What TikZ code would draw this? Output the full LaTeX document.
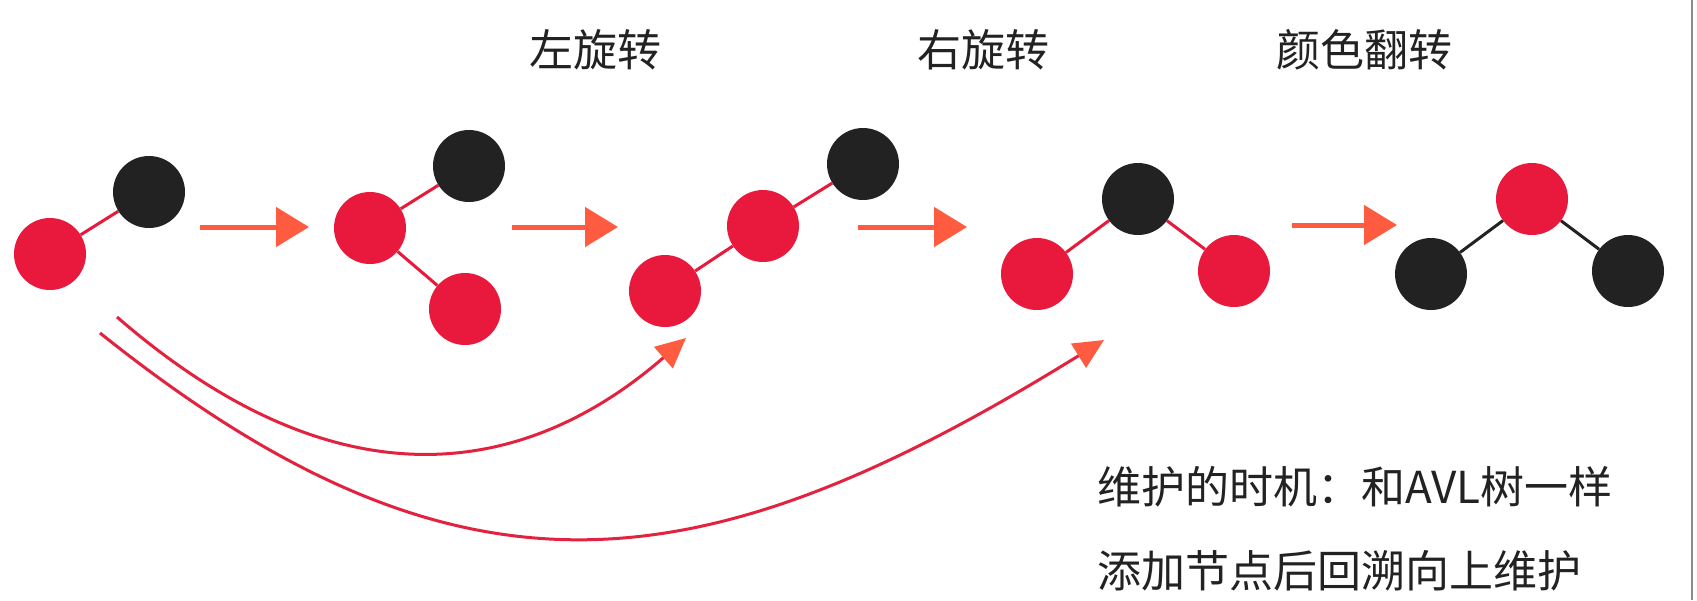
\documentclass[tikz,border=0pt]{standalone}
\usepackage{fontspec}
\setmainfont{Noto Sans CJK SC}
\usetikzlibrary{arrows.meta}
\definecolor{rbred}{HTML}{E8193C}
\definecolor{rbblack}{HTML}{222222}
\definecolor{arr}{HTML}{FF5B40}
\definecolor{curvered}{HTML}{E2223F}
\begin{document}
\begin{tikzpicture}[x=1pt,y=-1pt,
  rn/.style={circle,fill=rbred,minimum size=72pt,inner sep=0pt},
  bn/.style={circle,fill=rbblack,minimum size=72pt,inner sep=0pt},
  redge/.style={draw=rbred,line width=3pt},
  bedge/.style={draw=rbblack,line width=3pt},
  steparrow/.style={draw=arr,line width=5pt,-{Triangle[length=33pt,width=39pt]}},
  curvearrow/.style={draw=curvered,line width=3pt,-{Triangle[length=30pt,width=28pt,color=arr]}},
  title/.style={font=\fontsize{44}{50}\selectfont,text=rbblack,inner sep=0pt},
  note/.style={font=\fontsize{44}{50}\selectfont,text=rbblack,inner sep=0pt,anchor=west}]
\useasboundingbox (0,0) rectangle (1697,600);
\fill[white] (0,0) rectangle (1697,600);
\draw[black!45,line width=2pt] (1692,0) -- (1692,600);

% titles
\node[title] (l1) at (595,50) {左旋转};
\node[title] (l2) at (983,50) {右旋转};
\node[title] (l3) at (1364,50) {颜色翻转};

% tree 1
\node[rn] (t1r) at (50,254) {};
\node[bn] (t1b) at (149,192) {};
\draw[redge] (t1r) -- (t1b);

% tree 2
\node[rn] (t2r) at (370,228) {};
\node[bn] (t2b) at (469,166) {};
\node[rn] (t2c) at (465,309) {};
\draw[redge] (t2r) -- (t2b);
\draw[redge] (t2r) -- (t2c);

% tree 3
\node[rn] (t3a) at (665,291) {};
\node[rn] (t3b) at (763,226) {};
\node[bn] (t3c) at (863,164) {};
\draw[redge] (t3a) -- (t3b);
\draw[redge] (t3b) -- (t3c);

% tree 4
\node[bn] (t4t) at (1138,199) {};
\node[rn] (t4l) at (1037,274) {};
\node[rn] (t4r) at (1234,271) {};
\draw[redge] (t4t) -- (t4l);
\draw[redge] (t4t) -- (t4r);

% tree 5
\node[rn] (t5t) at (1532,199) {};
\node[bn] (t5l) at (1431,274) {};
\node[bn] (t5r) at (1628,271) {};
\draw[bedge] (t5t) -- (t5l);
\draw[bedge] (t5t) -- (t5r);

% step arrows
\coordinate (a1s) at (200,227); \coordinate (a1e) at (309,227);
\coordinate (a2s) at (512,227); \coordinate (a2e) at (618,227);
\coordinate (a3s) at (858,227); \coordinate (a3e) at (967,227);
\coordinate (a4s) at (1292,225); \coordinate (a4e) at (1397,225);
\draw[steparrow] (a1s) -- (a1e);
\draw[steparrow] (a2s) -- (a2e);
\draw[steparrow] (a3s) -- (a3e);
\draw[steparrow] (a4s) -- (a4e);

% curved arrows
\coordinate (c1s) at (117,317); \coordinate (c1e) at (686,338);
\coordinate (c2s) at (100,333); \coordinate (c2e) at (1104,340);
\draw[curvearrow] (c1s) .. controls (337,508) and (524,479) .. (c1e);
\draw[curvearrow] (c2s) .. controls (459,620) and (700,590) .. (c2e);

% notes
\node[note] (n1) at (1097,487) {维护的时机：和AVL树一样};
\node[note] (n2) at (1097,571) {添加节点后回溯向上维护};
\end{tikzpicture}
\end{document}
